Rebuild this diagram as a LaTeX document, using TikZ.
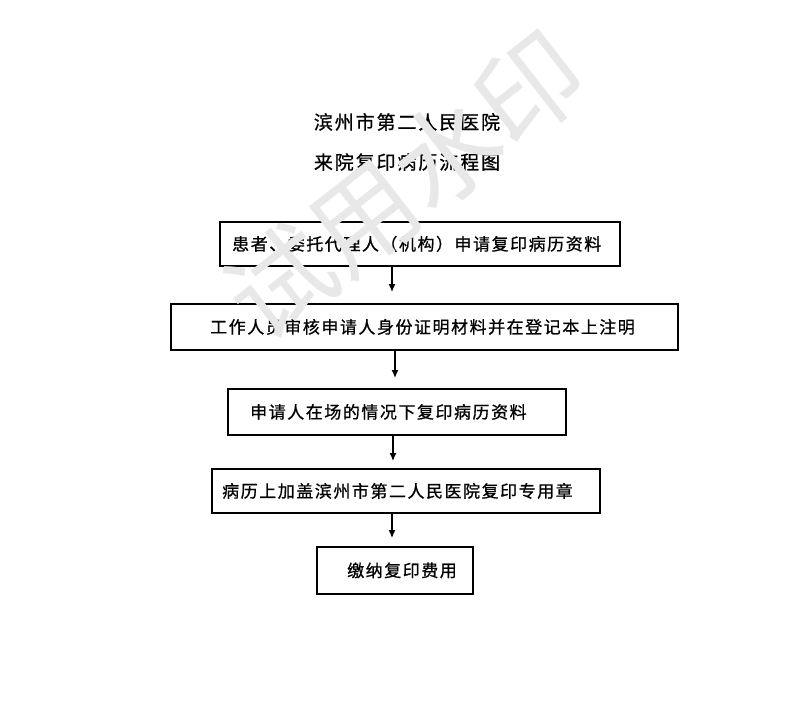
\documentclass[tikz,border=0pt]{standalone}
\usepackage{fontspec}
\setmainfont{Liberation Serif}
\newfontfamily\cjk{Noto Sans CJK SC}
\newfontfamily\cjkbox[LetterSpace=9,FakeBold=0.8]{Noto Sans CJK SC}
\newfontfamily\cjktitle[LetterSpace=10,FakeBold=0.8]{Noto Sans CJK SC}
\usetikzlibrary{arrows.meta,calc}
\tikzset{
  stepbox/.style={draw=black, line width=1.8pt, rectangle, inner sep=0pt, anchor=north west},
  boxtext/.style={anchor=west, inner sep=0pt, font=\cjkbox\fontsize{17}{17}\selectfont},
  titletext/.style={inner sep=0pt, font=\cjktitle\fontsize{19}{19}\selectfont},
  flow/.style={line width=1.2pt, -{Latex[length=8pt,width=7pt]}},
  wm/.style={text=gray!18, font=\cjk\fontsize{105}{105}\selectfont, rotate=38, inner sep=0pt}
}
\begin{document}
\begin{tikzpicture}[x=1pt,y=-1pt]
\useasboundingbox (0,0) rectangle (793,706);
\fill[white] (0,0) rectangle (793,706);

% title
\node[titletext] (t1) at (407,122) {滨州市第二人民医院};
\node[titletext] (t2) at (407,162) {来院复印病历流程图};

% boxes
\node[stepbox, minimum width=400pt, minimum height=44pt] (b1) at (219,221) {};
\node[stepbox, minimum width=507pt, minimum height=46pt] (b2) at (170,303) {};
\node[stepbox, minimum width=338pt, minimum height=46pt] (b3) at (227,388) {};
\node[stepbox, minimum width=388pt, minimum height=44pt] (b4) at (211,468) {};
\node[stepbox, minimum width=156pt, minimum height=47pt] (b5) at (316,546) {};

% texts
\node[boxtext] (l1) at ($(b1.west)+(13,0)$) {患者、委托代理人（机构）申请复印病历资料};
\node[boxtext] (l2) at ($(b2.west)+(40,0)$) {工作人员审核申请人身份证明材料并在登记本上注明};
\node[boxtext] (l3) at ($(b3.west)+(23,0)$) {申请人在场的情况下复印病历资料};
\node[boxtext] (l4) at ($(b4.west)+(11,0)$) {病历上加盖滨州市第二人民医院复印专用章};
\node[boxtext] (l5) at ($(b5.west)+(31,0)$) {缴纳复印费用};

% arrows
\coordinate (a1) at ($(b2.north west)+(222,-11)$);
\coordinate (a2) at ($(b3.north west)+(168,-10)$);
\coordinate (a3) at ($(b4.north west)+(182,-7)$);
\coordinate (a4) at ($(b5.north west)+(76,-8)$);
\draw[flow] (b1.south -| a1) -- (a1);
\draw[flow] (b2.south -| a2) -- (a2);
\draw[flow] (b3.south -| a3) -- (a3);
\draw[flow] (b4.south -| a4) -- (a4);

% watermark
\node[wm] (w) at (405,185) {试用水印};
\end{tikzpicture}
\end{document}
